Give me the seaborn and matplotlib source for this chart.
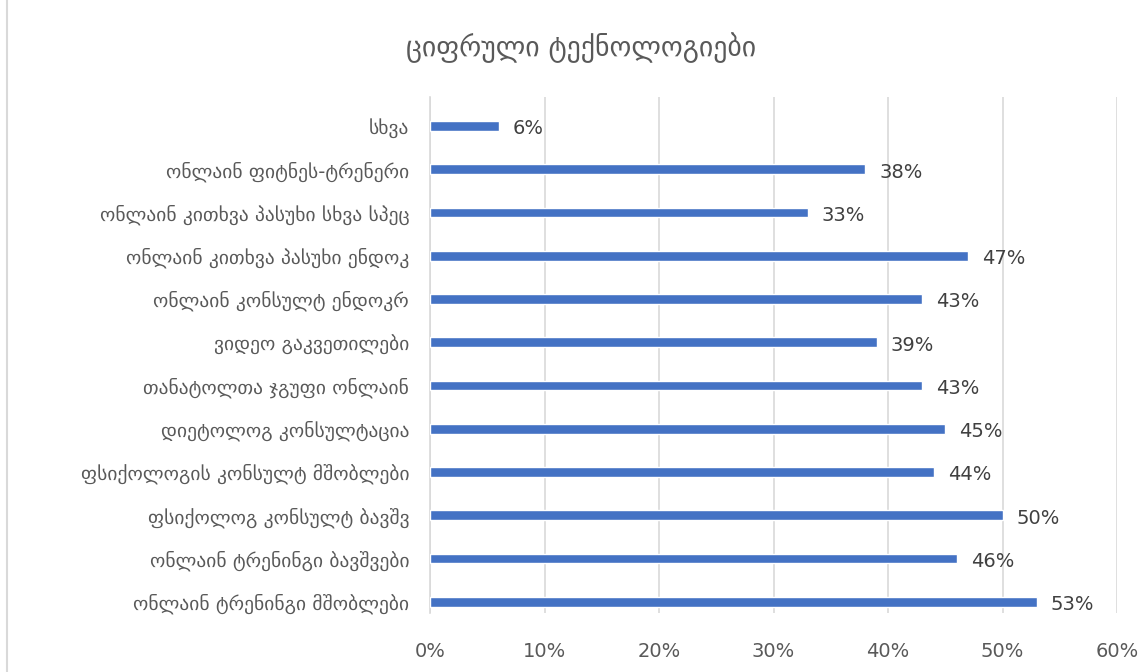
import matplotlib
matplotlib.use("Agg")
import matplotlib.pyplot as plt
import seaborn as sns
import pandas as pd
from matplotlib.lines import Line2D
from matplotlib.ticker import FuncFormatter

# Categories from top to bottom
categories = [
    "სხვა",
    "ონლაინ ფიტნეს-ტრენერი",
    "ონლაინ კითხვა პასუხი სხვა სპეც",
    "ონლაინ კითხვა პასუხი ენდოკ",
    "ონლაინ კონსულტ ენდოკრ",
    "ვიდეო გაკვეთილები",
    "თანატოლთა ჯგუფი ონლაინ",
    "დიეტოლოგ კონსულტაცია",
    "ფსიქოლოგის კონსულტ მშობლები",
    "ფსიქოლოგ კონსულტ ბავშვ",
    "ონლაინ ტრენინგი ბავშვები",
    "ონლაინ ტრენინგი მშობლები",
]
percent = [6, 38, 33, 47, 43, 39, 43, 45, 44, 50, 46, 53]
x_ticks = [0, 10, 20, 30, 40, 50, 60]
title = "ციფრული ტექნოლოგიები"

df = pd.DataFrame({"category": categories, "percent": percent})

sns.set_theme(style="white")
plt.rcParams["font.family"] = ["DejaVu Sans"]

fig = plt.figure(figsize=(11.45, 6.72), dpi=100)
ax = fig.add_axes([430 / 1145, 1 - 613 / 672, 687 / 1145, 516 / 672])

sns.barplot(data=df, y="category", x="percent", orient="h", color="#4472C4",
            saturation=1, width=0.23, ax=ax, zorder=3)

ax.set_xlim(0, 60)
ax.set_ylim(11.26, -0.67)
ax.set_xticks(x_ticks)
ax.xaxis.set_major_formatter(FuncFormatter(lambda v, p: f"{v:.0f}%"))
ax.grid(axis="x", color="#D9D9D9", linewidth=1.2, zorder=0)
ax.set_xlabel("")
ax.set_ylabel("")
for side in ["top", "right", "bottom"]:
    ax.spines[side].set_visible(False)
ax.spines["left"].set_color("#D9D9D9")
ax.spines["left"].set_linewidth(1.2)
ax.tick_params(axis="both", length=0, colors="#595959", labelsize=14)
ax.tick_params(axis="x", pad=21)
ax.tick_params(axis="y", pad=15)

# value labels just right of each bar end
for patch, v in zip(ax.patches, percent):
    ax.annotate(f"{v}%", xy=(patch.get_width(), patch.get_y() + patch.get_height() / 2),
                xytext=(14, -3), textcoords="offset pixels", ha="left", va="center",
                color="#404040", fontsize=14)

fig.text(581 / 1145, 1 - 48 / 672, title, ha="center", va="center",
         fontsize=20, color="#595959")

fig.lines.append(Line2D([7 / 1145, 7 / 1145], [0, 1], transform=fig.transFigure,
                        color="#D9D9D9", linewidth=1.5))

fig.savefig("out.png", dpi=100)
